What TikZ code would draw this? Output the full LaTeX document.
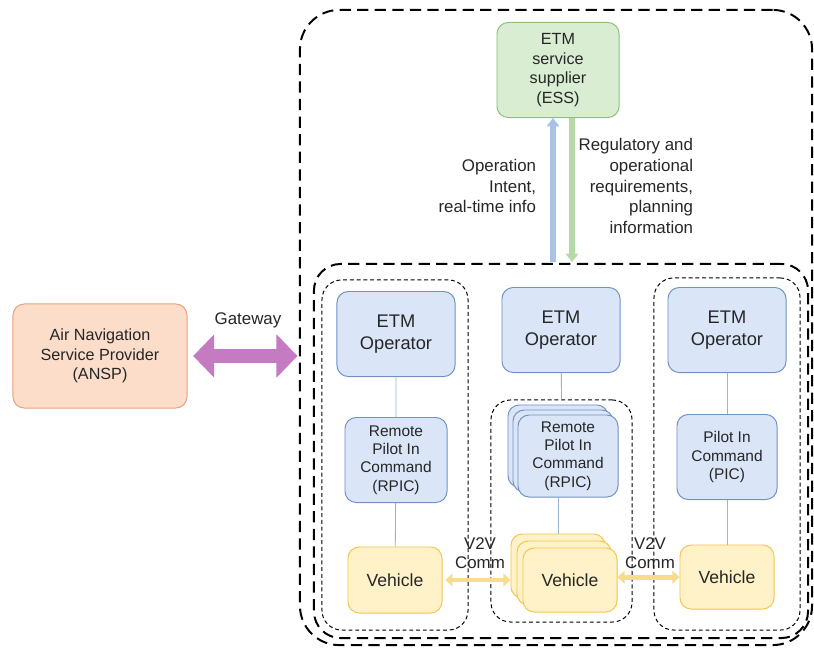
\documentclass[tikz,border=0pt]{standalone}
\usepackage{fontspec}
\setmainfont{Liberation Sans}
\usepackage{tikz}
\usetikzlibrary{positioning,arrows.meta}
\usepackage{xcolor}
\definecolor{bfill}{HTML}{DAE6F8}
\definecolor{bline}{HTML}{7091C6}
\definecolor{gfill}{HTML}{D9EDD3}
\definecolor{gline}{HTML}{8CC078}
\definecolor{yfill}{HTML}{FFF1C8}
\definecolor{yline}{HTML}{F1C64C}
\definecolor{ofill}{HTML}{FBDDCA}
\definecolor{oline}{HTML}{E9A07A}
\definecolor{gwcol}{HTML}{C57BC2}
\definecolor{v2vcol}{HTML}{F8DC8E}
\definecolor{upcol}{HTML}{A9C3E7}
\definecolor{dncol}{HTML}{B7D8A7}

\begin{document}
\begin{tikzpicture}[x=0.025cm,y=-0.025cm,
  box/.style={draw,rounded corners=8pt,align=center,line width=0.7pt,inner sep=1pt,text=black!85},
  opbox/.style={box,fill=bfill,draw=bline,minimum width=2.95cm,minimum height=2.125cm,font=\fontsize{13}{15.5}\selectfont},
  pilbox/.style={box,fill=bfill,draw=bline,minimum width=2.5cm,minimum height=2.05cm,font=\fontsize{11}{13}\selectfont},
  vehbox/.style={box,fill=yfill,draw=yline,minimum width=2.35cm,minimum height=1.6cm,font=\fontsize{12.5}{15}\selectfont},
  grp/.style={draw,rounded corners=14pt,line width=0.7pt,dash pattern=on 2.8pt off 2pt},
  zone/.style={draw,rounded corners=28pt,line width=1.4pt,dash pattern=on 8pt off 4.5pt},
  link/.style={draw=bline!70,line width=0.6pt},
  lbl/.style={align=right,font=\fontsize{12}{14.6}\selectfont,text=black!85},
  flow/.style={line width=4pt,-{Triangle[width=9pt,length=6pt]}},
  v2v/.style={draw=v2vcol,line width=3.5pt,{Triangle[width=9pt,length=5pt]}-{Triangle[width=9pt,length=5pt]}}]
\useasboundingbox (0,0) rectangle (814,650);

% containers
\node (outer) [zone,minimum width=12.8cm,minimum height=15.875cm] at (556,327.5) {};
\node (inner) [zone,rounded corners=19pt,minimum width=12.35cm,minimum height=9.35cm] at (561,451) {};
\node (grpL) [grp,minimum width=3.65cm,minimum height=8.75cm] at (395,455) {};
\node (grpM) [grp,minimum width=3.525cm,minimum height=5.55cm] at (561.5,511) {};
\node (grpR) [grp,minimum width=3.65cm,minimum height=8.8cm] at (727,454) {};

% ESS and ANSP
\node (ess) [box,fill=gfill,draw=gline,minimum width=3.05cm,minimum height=2.375cm,
  font=\fontsize{11.5}{14}\selectfont] at (558,70) {ETM\\service\\supplier\\(ESS)};
\node (ansp) [box,fill=ofill,draw=oline,minimum width=4.35cm,minimum height=2.6cm,
  font=\fontsize{11.5}{14}\selectfont] at (100,356) {Air Navigation\\Service Provider\\(ANSP)};

% operators
\node (opL) [opbox] at (396,334) {ETM\\Operator};
\node (opM) [opbox] at (561,330) {ETM\\Operator};
\node (opR) [opbox] at (727,330) {ETM\\Operator};

% pilots
\node (rpicL) [pilbox,minimum width=2.55cm,minimum height=2.125cm] at (396,460) {Remote\\Pilot In\\Command\\(RPIC)};
\node (rpicMb) [pilbox] at (558,446) {};
\node (rpicMm) [pilbox] at (563,451) {};
\node (rpicM) [pilbox] at (568,456) {Remote\\Pilot In\\Command\\(RPIC)};
\node (picR) [pilbox,minimum height=2.125cm] at (727,457) {Pilot In\\Command\\(PIC)};

% vehicles
\node (vehL) [vehbox,minimum height=1.65cm] at (395,580) {Vehicle};
\node (vehMb) [vehbox] at (558,566) {};
\node (vehMm) [vehbox] at (564,573) {};
\node (vehM) [vehbox] at (570,580) {Vehicle};
\node (vehR) [vehbox] at (727,577) {Vehicle};

% links
\draw[link] (opL) -- (rpicL) -- (vehL);
\draw[link] (opM) -- (grpM.north);
\draw[link] (rpicM.south -| vehMb.north) -- (vehMb.north);
\draw[link] (opR) -- (picR) -- (vehR);

% ESS flows
\coordinate (upS) at (553,262);
\coordinate (dnE) at (572,262);
\draw[flow,upcol] (upS) -- (upS |- ess.south);
\draw[flow,dncol] (dnE |- ess.south) -- (dnE);
\node (opinfo) [lbl,anchor=east] at (541,186) {Operation\\Intent,\\real-time info};
\node (reginfo) [lbl,anchor=east] at (698,186) {Regulatory and\\operational\\requirements,\\planning\\information};

% gateway
\draw[gwcol,line width=10.5pt,shorten <=4pt,shorten >=1pt,
  {Triangle[width=30pt,length=15pt]}-{Triangle[width=30pt,length=15pt]}]
  (ansp.east) -- (ansp.east -| outer.west);
\node (gw) [lbl,align=center] at (248,320) {Gateway};

% V2V
\draw[v2v] ([xshift=2pt]vehL.east) -- (vehL.east -| vehMb.west);
\draw[v2v] ([yshift=2pt]vehM.east) -- ([yshift=2pt]vehM.east -| vehR.west);
\node (v2vL) [lbl,align=center,font=\fontsize{12}{13.5}\selectfont] at (480,553) {V2V\\Comm};
\node (v2vR) [lbl,align=center,font=\fontsize{12}{13.5}\selectfont] at (650,553) {V2V\\Comm};
\end{tikzpicture}
\end{document}
